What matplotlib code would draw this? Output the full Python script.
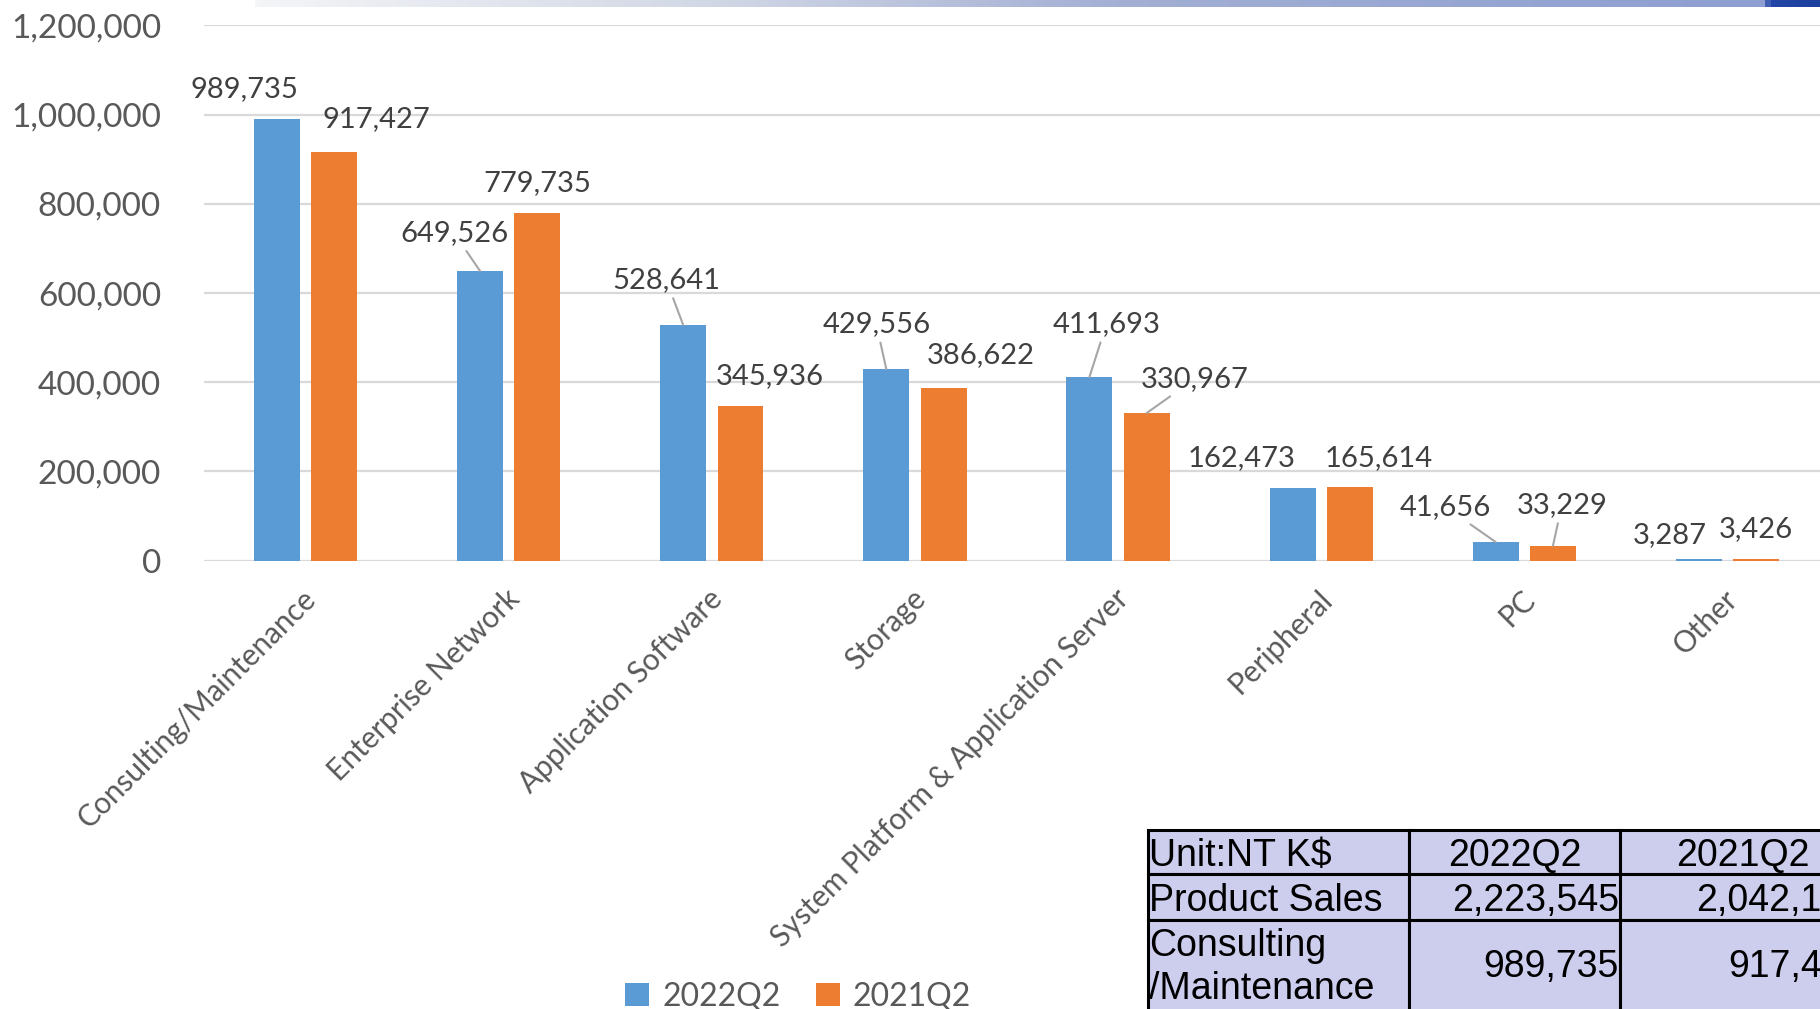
import matplotlib
matplotlib.use("Agg")
import matplotlib.pyplot as plt
import numpy as np
from matplotlib.patches import Rectangle
from matplotlib.colors import LinearSegmentedColormap

# ---------------- data ----------------
categories = ["Consulting/Maintenance", "Enterprise Network", "Application Software",
              "Storage", "System Platform & Application Server", "Peripheral", "PC", "Other"]
series_names = ["2022Q2", "2021Q2"]
values_2022 = [989735, 649526, 528641, 429556, 411693, 162473, 41656, 3287]
values_2021 = [917427, 779735, 345936, 386622, 330967, 165614, 33229, 3426]
yticks = [0, 200000, 400000, 600000, 800000, 1000000, 1200000]

table_rows = [
    ["Unit:NT K$", "2022Q2", "2021Q2"],
    ["Product Sales", "2,223,545", "2,042,1"],
    ["Consulting\n/Maintenance", "989,735", "917,4"],
]

# label offsets (pixels, dx, dy up) and whether a leader line is drawn
off_2022 = [(-32, 30, False), (-26, 38, True), (-17, 45, True), (-10, 45, True),
            (17, 53, True), (-51, 30, False), (-50, 35, True), (-29, 24, False)]
off_2021 = [(42, 32, False), (0, 30, False), (29, 30, False), (37, 33, False),
            (48, 34, True), (29, 29, False), (9, 41, True), (0, 30, False)]

W, H = 1820, 1009
DPI = 100
fig = plt.figure(figsize=(W / DPI, H / DPI), dpi=DPI)
fig.patch.set_facecolor("white")

FONT = "Lato"
GRAY = "#595959"
LABEL = "#404040"
BLUE = "#5B9BD5"
ORANGE = "#ED7D31"

# ---------------- banner strip at top ----------------
bax = fig.add_axes([255 / W, 1 - 7 / H, 1 - 255 / W, 7 / H])
cmap = LinearSegmentedColormap.from_list(
    "banner", [(0, "#f4f5f7"), (0.3, "#d0d6e4"), (0.55, "#a3afd4"),
               (0.965, "#8e9ed0"), (0.97, "#2346a8"), (1, "#1d3f9e")])
bax.imshow(np.linspace(0, 1, 512)[None, :], aspect="auto", cmap=cmap, extent=[0, 1, 0, 1])
bax.set_axis_off()

# ---------------- main axes ----------------
ax_left = 204 / W
ax_bottom = (H - 560.6) / H
ax_top = (H - 25.5) / H
ax_right = 1829 / W
ax = fig.add_axes([ax_left, ax_bottom, ax_right - ax_left, ax_top - ax_bottom])
ax.set_xlim(-0.5, len(categories) - 0.5)
ax.set_ylim(0, 1200000)
for s in ax.spines.values():
    s.set_visible(False)
ax.set_yticks(yticks)
ax.set_yticklabels([f"{v:,}" for v in yticks], fontfamily=FONT, fontsize=24, color=GRAY)
ax.tick_params(axis="y", length=0, pad=31)
ax.tick_params(axis="x", length=0)
ax.grid(axis="y", color="#D9D9D9", linewidth=1.6)
ax.set_axisbelow(True)

x = np.arange(len(categories))
bw = 0.226
sep = 0.141
b1 = ax.bar(x - sep, values_2022, bw, color=BLUE, label=series_names[0], zorder=3)
b2 = ax.bar(x + sep, values_2021, bw, color=ORANGE, label=series_names[1], zorder=3)

ax.set_xticks(x)
ax.set_xticklabels([])
for xi, cat in zip(x, categories):
    ax.annotate(cat, xy=(xi + 0.03, 0), xycoords="data", xytext=(0, -34),
                textcoords="offset pixels", rotation=45, rotation_mode="anchor",
                ha="right", va="center", fontfamily=FONT, fontsize=21.4, color=GRAY,
                annotation_clip=False)

def add_labels(xs, vals, offs):
    for xi, v, (dx, dy, lead) in zip(xs, vals, offs):
        kw = {}
        if lead:
            kw["arrowprops"] = dict(arrowstyle="-", color="#A6A6A6", lw=1.5,
                                    shrinkA=2, shrinkB=0)
        ax.annotate(f"{v:,}", xy=(xi, v), xytext=(dx, dy), textcoords="offset pixels",
                    ha="center", va="center", fontfamily=FONT, fontsize=21,
                    color=LABEL, zorder=5, annotation_clip=False, **kw)

add_labels(x - sep, values_2022, off_2022)
add_labels(x + sep, values_2021, off_2021)

# ---------------- legend ----------------
leg = fig.legend(handles=[b1, b2], labels=series_names, loc="center",
                 bbox_to_anchor=(798 / W, 1 - 996.5 / H), ncol=2, frameon=False,
                 prop={"family": FONT, "size": 23}, handlelength=0.75, handleheight=0.75,
                 handletextpad=0.4, columnspacing=1.1)
for t in leg.get_texts():
    t.set_color(GRAY)

# ---------------- table ----------------
col_x = [1148, 1409, 1620, 1866]
row_y = [830, 874, 920, 1020]
TBL = "#CDCDEE"
FS = 27
for r in range(3):
    for c in range(3):
        x0, x1 = col_x[c], col_x[c + 1]
        y0, y1 = row_y[r], row_y[r + 1]
        fig.patches.append(Rectangle((x0 / W, 1 - y1 / H), (x1 - x0) / W, (y1 - y0) / H,
                                     transform=fig.transFigure, facecolor=TBL,
                                     edgecolor="black", linewidth=2.2, zorder=1))
        txt = table_rows[r][c]
        if r == 2:
            yc = 1 - ((y0 + 1009) / 2 + 3) / H
        else:
            yc = 1 - ((y0 + y1) / 2 + 4) / H
        if c == 0:
            fig.text((x0 + 1) / W, yc, txt, ha="left", va="center", fontsize=FS,
                     fontfamily="Liberation Sans", color="black", linespacing=1.25)
        elif r == 0:
            fig.text((x0 + x1) / 2 / W, yc, txt, ha="center", va="center", fontsize=FS,
                     fontfamily="Liberation Sans", color="black")
        else:
            fig.text((x0 + 202) / W if c == 2 else (x1 - 1) / W, yc, txt,
                     ha="right", va="center", fontsize=FS,
                     fontfamily="Liberation Sans", color="black")

fig.savefig("out.png", dpi=DPI, facecolor="white")
